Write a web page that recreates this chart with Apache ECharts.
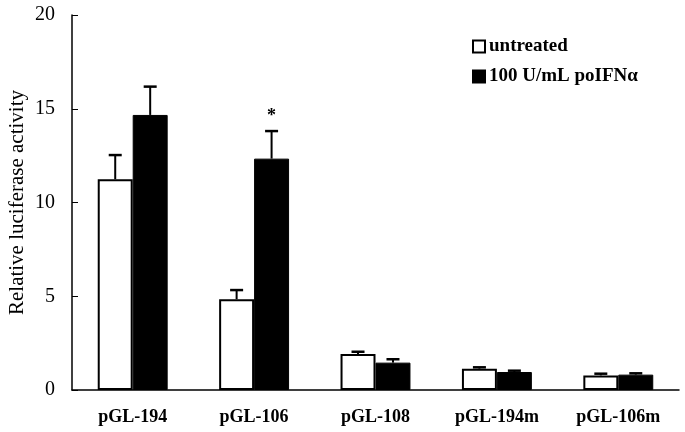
<!DOCTYPE html>
<html>
<head>
<meta charset="utf-8">
<script src="https://cdn.jsdelivr.net/npm/echarts@6/dist/echarts.min.js"></script>
<style>
  html, body { margin: 0; padding: 0; background: #fff; }
  #chart { width: 685px; height: 432px; }
</style>
</head>
<body>
<div id="chart"></div>
<script>
// values
const categories = ['pGL-194', 'pGL-106', 'pGL-108', 'pGL-194m', 'pGL-106m'];
const untreated = [11.24, 4.84, 1.92, 1.14, 0.78];
const untreatedErr = [1.29, 0.49, 0.12, 0.07, 0.09];
const treated = [14.67, 12.34, 1.46, 0.96, 0.82];
const treatedErr = [1.51, 1.47, 0.18, 0.07, 0.07];
const treatedSig = [false, true, false, false, false];
const yTicks = [0, 5, 10, 15, 20];

const font = 'Liberation Serif';
const barFrac = 0.288; // bar width as share of category

function errData(vals, errs, sig) {
    return vals.map((v, i) => [i, v, v + errs[i], sig ? (sig[i] ? 1 : 0) : 0]);
}

function errorBars(side) {
    return function (params, api) {
        const i = api.value(0);
        const base = api.coord([i, api.value(1)]);
        const top = api.coord([i, api.value(2)]);
        const band = api.size([1, 0])[0];
        const x = base[0] + side * band * barFrac / 2;
        const cap = 6.5;
        const children = [
            { type: 'line', shape: { x1: x, y1: base[1], x2: x, y2: top[1] }, style: { stroke: '#000', lineWidth: 2 } },
            { type: 'line', shape: { x1: x - cap, y1: top[1], x2: x + cap, y2: top[1] }, style: { stroke: '#000', lineWidth: 2.5 } }
        ];
        if (api.value(3)) {
            children.push({
                type: 'text',
                style: { text: '*', x: x, y: top[1] - 15, align: 'center', verticalAlign: 'middle',
                    font: 'bold 18px "Liberation Serif"', fill: '#000' }
            });
        }
        return { type: 'group', children: children };
    };
}

const chart = echarts.init(document.getElementById('chart'));
chart.setOption({
    animation: false,
    textStyle: { fontFamily: font, color: '#000' },
    grid: { left: 72, right: 6, top: 15, bottom: 42, containLabel: false, outerBoundsMode: 'none' },
    legend: {
        orient: 'vertical',
        left: 467,
        top: 32,
        itemWidth: 12,
        itemHeight: 12,
        itemGap: 11,
        icon: 'rect',
        textStyle: { fontFamily: font, fontSize: 19, fontWeight: 'bold', color: '#000', padding: [0, 0, 0, -1] },
        data: ['untreated', '100 U/mL poIFNα']
    },
    xAxis: {
        type: 'category',
        data: categories,
        axisLine: { lineStyle: { color: '#000', width: 1.5 } },
        axisTick: { inside: true, length: 5, lineStyle: { color: '#000' } },
        axisLabel: { fontFamily: font, fontSize: 18, fontWeight: 'bold', color: '#000', margin: 18 }
    },
    yAxis: {
        type: 'value',
        min: 0,
        max: 20,
        interval: 5,
        name: 'Relative luciferase activity',
        nameLocation: 'middle',
        nameRotate: 90,
        nameGap: 44,
        nameMoveOverlap: false,
        nameTextStyle: { fontFamily: font, fontSize: 21, color: '#000' },
        splitLine: { show: false },
        axisLine: { show: true, lineStyle: { color: '#000', width: 1.5 } },
        axisTick: { show: true, inside: true, length: 6, lineStyle: { color: '#000' } },
        axisLabel: {
            fontFamily: font, fontSize: 20, color: '#000', margin: 17,
            formatter: v => yTicks.includes(v) ? String(v) : ''
        }
    },
    series: [
        {
            name: 'untreated',
            type: 'bar',
            data: untreated,
            barWidth: (barFrac * 100) + '%',
            barGap: '0%',
            itemStyle: { color: '#fff', borderColor: '#000', borderWidth: 2 }
        },
        {
            name: '100 U/mL poIFNα',
            type: 'bar',
            data: treated,
            barWidth: (barFrac * 100) + '%',
            barGap: '0%',
            itemStyle: { color: '#000', borderColor: '#000', borderWidth: 1 }
        },
        {
            type: 'custom',
            renderItem: errorBars(-1),
            data: errData(untreated, untreatedErr),
            z: 5
        },
        {
            type: 'custom',
            renderItem: errorBars(1),
            data: errData(treated, treatedErr, treatedSig),
            z: 5
        }
    ]
});
</script>
</body>
</html>
